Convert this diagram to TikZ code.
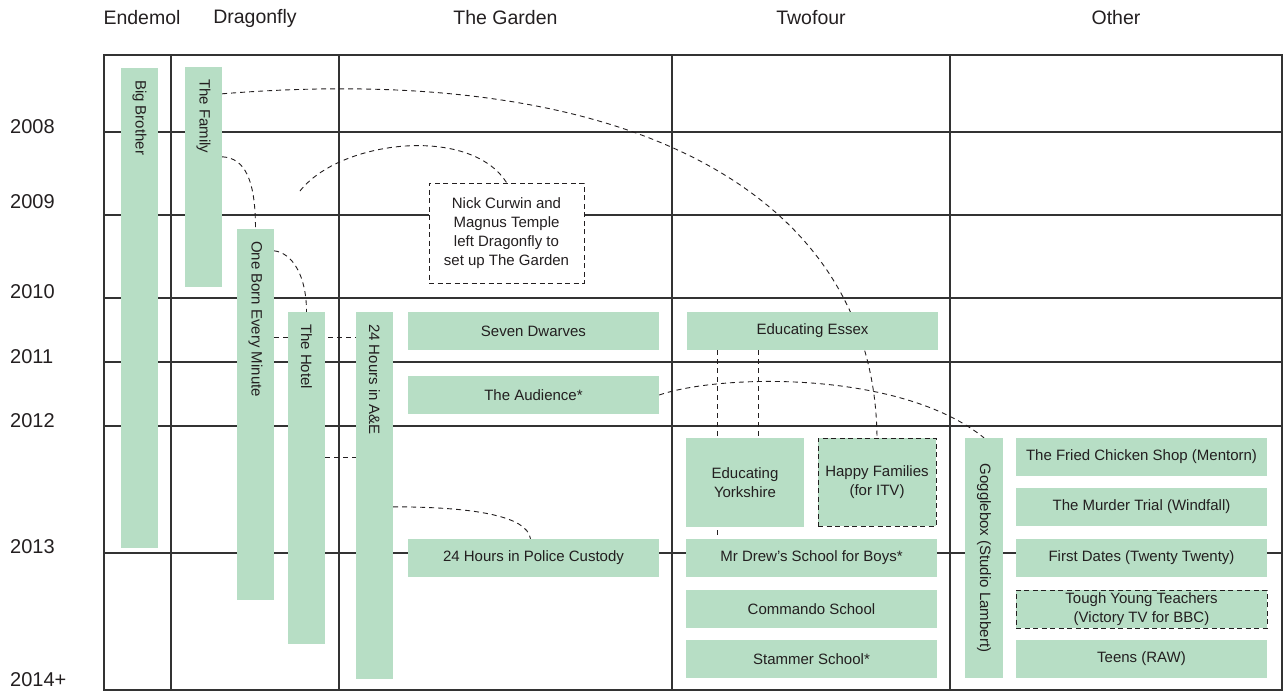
\documentclass[tikz,border=0pt]{standalone}
\usepackage{fontspec}
\setmainfont{Liberation Sans}
\usetikzlibrary{calc}
\pgfdeclarelayer{background}
\pgfsetlayers{background,main}
\definecolor{progreen}{HTML}{B7DEC5}
\definecolor{rulegray}{HTML}{333333}
\definecolor{ink}{HTML}{231F20}
\newcommand\progfont{\fontsize{15}{19}\selectfont}
\newcommand\headfont{\fontsize{19.5}{23}\selectfont}
\newcommand\yearfont{\fontsize{20}{24}\selectfont}

\begin{document}
\begin{tikzpicture}[x=1pt,y=-1pt,
  prog/.style={fill=progreen,inner sep=0pt,text=ink,font=\progfont,align=center},
  hprog/.style={prog,minimum width=251pt,minimum height=38pt},
  vprog/.style={prog,minimum width=37pt},
  vlabel/.style={rotate=-90,anchor=west,inner sep=0pt,text=ink,font=\progfont},
  dashbox/.style={draw=ink,line width=.9pt,dash pattern=on 5pt off 3.5pt},
  head/.style={text=ink,font=\headfont,inner sep=0pt},
  year/.style={text=ink,font=\yearfont,inner sep=0pt,anchor=base west},
  link/.style={ink,dash pattern=on 5pt off 4pt,line width=.9pt},
  rule/.style={rulegray,line width=1.2pt}]
  \useasboundingbox (0,0) rectangle (1286,691);

  % column heads and years
  \draw(142,18) node[head] (hEnd) {Endemol};
  \draw(255,18) node[head] (hDra) {Dragonfly};
  \draw(505.5,18) node[head] (hGar) {The Garden};
  \draw(811,18) node[head] (hTwo) {Twofour};
  \draw(1116,18) node[head] (hOth) {Other};
  \draw(10,133) node[year] (y08) {2008};
  \draw(10,208) node[year] (y09) {2009};
  \draw(10,298) node[year] (y10) {2010};
  \draw(10,363) node[year] (y11) {2011};
  \draw(10,427) node[year] (y12) {2012};
  \draw(10,553) node[year] (y13) {2013};
  \draw(10,686) node[year] (y14) {2014+};

  % vertical bars
  \draw(139.5,308) node[vprog,minimum height=480pt] (BB) {};
  \draw(203.5,177) node[vprog,minimum height=220pt] (TF) {};
  \draw(255.5,414.5) node[vprog,minimum height=371pt] (OB) {};
  \draw(306.5,478) node[vprog,minimum height=332pt] (TH) {};
  \draw(374.5,495.5) node[vprog,minimum height=367pt] (AE) {};
  \draw(984,558) node[vprog,minimum width=38pt,minimum height=240pt] (GB) {};
  \node[vlabel] (BBt) at ([yshift=-12pt]BB.north) {Big Brother};
  \node[vlabel] (TFt) at ([yshift=-12pt]TF.north) {The Family};
  \node[vlabel] (OBt) at ([yshift=-12pt]OB.north) {One Born Every Minute};
  \node[vlabel] (THt) at ([yshift=-12pt]TH.north) {The Hotel};
  \node[vlabel] (AEt) at ([yshift=-12pt]AE.north) {24 Hours in A\&E};
  \node[vlabel,anchor=center] (GBt) at (GB.center) {Gogglebox (Studio Lambert)};

  % The Garden
  \draw(506.5,233) node[prog,dashbox,fill=white,minimum width=155pt,minimum height=100pt] (NC)
    {Nick Curwin and\\Magnus Temple\\left Dragonfly to\\set up The Garden};
  \draw(533.5,331) node[hprog] (SD) {Seven Dwarves};
  \draw(533.5,395) node[hprog] (TA) {The Audience*};
  \draw(533.5,558) node[hprog] (PC) {24 Hours in Police Custody};

  % Twofour
  \draw(812.5,331) node[hprog] (EE) {Educating Essex};
  \draw(745,482.5) node[prog,minimum width=118pt,minimum height=89pt] (EY) {Educating\\Yorkshire};
  \draw(877,482) node[prog,dashbox,minimum width=118pt,minimum height=88pt] (HF) {Happy Families\\(for ITV)};
  \draw(811.5,558) node[hprog] (MD) {Mr Drew’s School for Boys*};
  \draw(811.5,609) node[hprog] (CS) {Commando School};
  \draw(811.5,659) node[hprog] (SS) {Stammer School*};

  % Other
  \draw(1141.5,457) node[hprog] (FC) {The Fried Chicken Shop (Mentorn)};
  \draw(1141.5,507) node[hprog] (MT) {The Murder Trial (Windfall)};
  \draw(1141.5,558) node[hprog] (FD) {First Dates (Twenty Twenty)};
  \draw(1141.5,609) node[hprog,dashbox] (TY) {Tough Young Teachers\\(Victory TV for BBC)};
  \draw(1141.5,659) node[hprog] (TR) {Teens (RAW)};

  \coordinate (arc) at (300,191);

  \begin{pgfonlayer}{background}
    % grid
    \draw[rule] (104,55) rectangle (1282,690);
    \draw[rule] (171,55) -- (171,690);
    \draw[rule] (339,55) -- (339,690);
    \draw[rule] (672,55) -- (672,690);
    \draw[rule] (950,55) -- (950,690);
    \draw[rule] (104,132) -- (1282,132);
    \draw[rule] (104,215) -- (1282,215);
    \draw[rule] (104,298) -- (1282,298);
    \draw[rule] (104,362) -- (1282,362);
    \draw[rule] (104,426) -- (1282,426);
    \draw[rule] (104,553) -- (1282,553);
    % links
    \draw[link] ([yshift=-27pt]TF.north east) .. controls (640,60) and (875,200) .. (HF.north);
    \draw[link] ([yshift=-90pt]TF.north east) .. controls (245,158) and (255.5,180) .. (OB.north);
    \draw[link] ([yshift=-22pt]OB.north east) .. controls (292,253) and (306.5,275) .. (TH.north);
    \draw[link] (arc) .. controls (340,140) and (470,125) .. (NC.north);
    \draw[link] ([yshift=-109pt]OB.north east) -- ([yshift=-26pt]AE.north west);
    \draw[link] ([yshift=-146pt]TH.north east) -- ([yshift=-146pt]AE.north west);
    \draw[link] ([yshift=-195pt]AE.north east) .. controls (470,507) and (527,515) .. ([xshift=-3pt]PC.north);
    \draw[link] (TA.east) .. controls (720,374) and (900,370) .. (GB.north);
    \draw[link] ([xshift=31pt]EE.south west) -- ([xshift=32pt]MD.north west);
    \draw[link] ([xshift=72pt]EE.south west) -- ([xshift=73pt]EY.north west);
  \end{pgfonlayer}
\end{tikzpicture}
\end{document}
